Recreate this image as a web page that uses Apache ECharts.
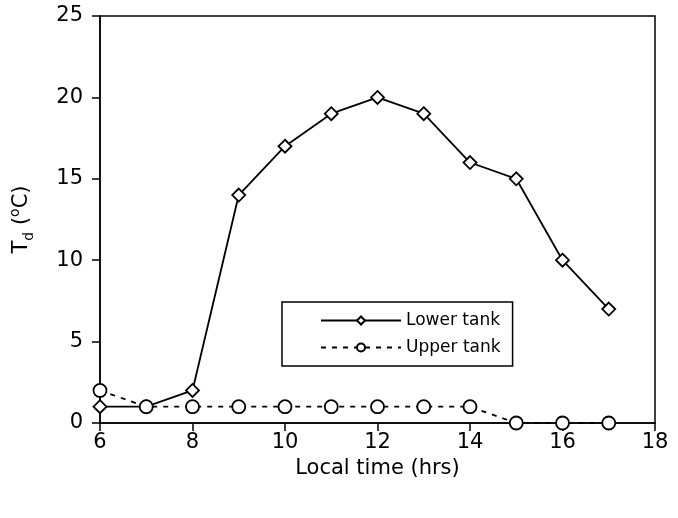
<!DOCTYPE html>
<html>
<head>
<meta charset="utf-8">
<script src="https://cdn.jsdelivr.net/npm/echarts@6/dist/echarts.min.js"></script>
<style>
	html, body { margin: 0; padding: 0; background: #fff; }
	#chart { width: 678px; height: 518px; }
</style>
</head>
<body>
<div id="chart"></div>
<script>
	// hours of the day
	var hours = [6, 7, 8, 9, 10, 11, 12, 13, 14, 15, 16, 17];
	// Td in degrees C
	var lowerTank = [1, 1, 2, 14, 17, 19, 20, 19, 16, 15, 10, 7];
	var upperTank = [2, 1, 1, 1, 1, 1, 1, 1, 1, 0, 0, 0];
	var xTicks = [6, 8, 10, 12, 14, 16, 18];
	var yTicks = [0, 5, 10, 15, 20, 25];

	var font = 'DejaVu Sans';

	function pairs(xs, ys) {
		return xs.map(function(x, i) { return [x, ys[i]]; });
	}

	var chart = echarts.init(document.getElementById('chart'));
	chart.setOption({
		animation: false,
		textStyle: { fontFamily: font, color: '#000' },
		grid: { left: 100, top: 16, right: 23, bottom: 95, show: true, borderColor: '#000', borderWidth: 1.5 },
		xAxis: {
			type: 'value', min: xTicks[0], max: xTicks[xTicks.length - 1], interval: 2,
			name: 'Local time (hrs)', nameLocation: 'middle', nameGap: 34,
			nameTextStyle: { fontSize: 21, color: '#000', fontFamily: font },
			axisLine: { show: true, lineStyle: { color: '#000', width: 1.5 } },
			axisTick: { show: true, inside: false, length: 8, lineStyle: { color: '#000', width: 1.5 } },
			axisLabel: { fontSize: 21, color: '#000', margin: 9, fontFamily: font },
			splitLine: { show: false }
		},
		yAxis: {
			type: 'value', min: yTicks[0], max: yTicks[yTicks.length - 1], interval: 5,
			name: '{a|T}{sub|d}{a| (}{sup|o}{a|C)}', nameLocation: 'middle', nameGap: 64, nameRotate: 90,
			nameTextStyle: {
				fontSize: 21, color: '#000', fontFamily: font,
				rich: {
					a: { fontSize: 21, fontFamily: font, color: '#000', lineHeight: 28, verticalAlign: 'middle' },
					sub: { fontSize: 14, fontFamily: font, color: '#000', lineHeight: 15, verticalAlign: 'bottom' },
					sup: { fontSize: 14, fontFamily: font, color: '#000', lineHeight: 15, verticalAlign: 'top' }
				}
			},
			axisLine: { show: true, lineStyle: { color: '#000', width: 1.5 } },
			axisTick: { show: true, inside: false, length: 8, lineStyle: { color: '#000', width: 1.5 } },
			axisLabel: { fontSize: 21, color: '#000', margin: 17, fontFamily: font },
			splitLine: { show: false }
		},
		legend: {
			orient: 'vertical', left: 282, top: 302,
			padding: [10, 12, 10, 38],
			itemGap: 10, itemWidth: 80, itemHeight: 10,
			borderColor: '#000', borderWidth: 1.5, backgroundColor: '#fff',
			textStyle: { fontSize: 17, color: '#000', fontFamily: font },
			data: ['Lower tank', 'Upper tank']
		},
		series: [
			{
				name: 'Lower tank', type: 'line', data: pairs(hours, lowerTank),
				symbol: 'diamond', symbolSize: 13,
				lineStyle: { color: '#000', width: 1.8 },
				itemStyle: { color: '#fff', borderColor: '#000', borderWidth: 1.8 }
			},
			{
				name: 'Upper tank', type: 'line', data: pairs(hours, upperTank),
				symbol: 'circle', symbolSize: 13,
				lineStyle: { color: '#000', width: 1.8, type: [5, 6] },
				itemStyle: { color: '#fff', borderColor: '#000', borderWidth: 1.8 }
			}
		]
	});
</script>
</body>
</html>
